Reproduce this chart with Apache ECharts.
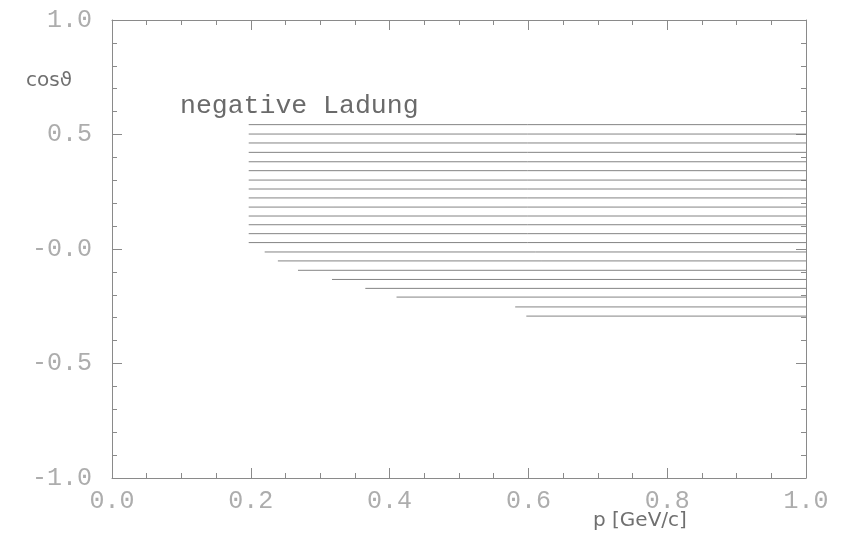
<!DOCTYPE html>
<html>
<head>
<meta charset="utf-8">
<script src="https://cdn.jsdelivr.net/npm/echarts@6/dist/echarts.min.js"></script>
<style>
  html, body { margin: 0; padding: 0; background: #fff; }
  #chart { width: 857px; height: 534px; }
</style>
</head>
<body>
<div id="chart"></div>
<script>
// Acceptance band for negative charge: one horizontal stroke per cos(theta) row,
// running from the lowest accepted momentum up to p = 1.0 GeV/c.
const cosTheta = [0.543, 0.502, 0.463, 0.422, 0.381, 0.342, 0.301, 0.262, 0.223, 0.183, 0.144,
                  0.106, 0.067, 0.028, -0.013, -0.052, -0.093, -0.133, -0.172, -0.210, -0.253, -0.293];
const pStart = [0.197, 0.197, 0.197, 0.197, 0.197, 0.197, 0.197, 0.197, 0.197, 0.197, 0.197,
                0.197, 0.197, 0.197, 0.220, 0.239, 0.268, 0.317, 0.365, 0.410, 0.581, 0.597];
const pEnd = [1.0, 1.0, 1.0, 1.0, 1.0, 1.0, 1.0, 1.0, 1.0, 1.0, 1.0,
              1.0, 1.0, 1.0, 1.0, 1.0, 1.0, 1.0, 1.0, 1.0, 1.0, 1.0];

const xTickLabels = ['0.0', '0.2', '0.4', '0.6', '0.8', '1.0'];
const yTickLabels = ['-1.0', '-0.5', '-0.0', '0.5', '1.0'];

const tickFont = { fontFamily: 'Liberation Mono', fontSize: 25, color: '#adadad' };
const frameColor = '#8a8a8a';

function frameAxis(extra) {
  return Object.assign({
    type: 'value',
    axisLine: { show: true, onZero: false, lineStyle: { color: frameColor, width: 1 } },
    axisTick: { show: true, inside: true, length: 10, lineStyle: { color: frameColor } },
    minorTick: { show: true, length: 5, lineStyle: { color: frameColor } },
    splitLine: { show: false },
    minorSplitLine: { show: false }
  }, extra);
}

const xLabelFmt = v => xTickLabels[Math.round(v / 0.2)];
const yLabelFmt = v => yTickLabels[Math.round((v + 1) / 0.5)];

const series = cosTheta.map((c, i) => ({
  type: 'line',
  xAxisIndex: 0,
  yAxisIndex: 0,
  data: [[pStart[i], c], [pEnd[i], c]],
  symbol: 'none',
  silent: true,
  lineStyle: { color: '#6e6e6e', width: 1, opacity: 0.85 }
}));

const chart = echarts.init(document.getElementById('chart'), null, { renderer: 'canvas' });
chart.setOption({
  animation: false,
  backgroundColor: '#fff',
  grid: { left: 112, right: 51, top: 20, bottom: 56 },
  xAxis: [
    frameAxis({
      position: 'bottom', min: 0, max: 1, interval: 0.2,
      minorTick: { show: true, splitNumber: 4, length: 5, lineStyle: { color: frameColor } },
      axisLabel: Object.assign({ margin: 11, formatter: xLabelFmt }, tickFont)
    }),
    frameAxis({
      position: 'top', min: 0, max: 1, interval: 0.2,
      minorTick: { show: true, splitNumber: 4, length: 5, lineStyle: { color: frameColor } },
      axisLabel: { show: false }
    })
  ],
  yAxis: [
    frameAxis({
      position: 'left', min: -1, max: 1, interval: 0.5,
      minorTick: { show: true, splitNumber: 5, length: 5, lineStyle: { color: frameColor } },
      axisLabel: Object.assign({ margin: 20, formatter: yLabelFmt }, tickFont)
    }),
    frameAxis({
      position: 'right', min: -1, max: 1, interval: 0.5,
      minorTick: { show: true, splitNumber: 5, length: 5, lineStyle: { color: frameColor } },
      axisLabel: { show: false }
    })
  ],
  graphic: [
    {
      type: 'text', left: 26, top: 71,
      style: { text: 'cos\u03d1', fontFamily: 'DejaVu Sans', fontSize: 20, fill: '#707070' }
    },
    {
      type: 'text', left: 180, top: 92,
      style: { text: 'negative Ladung', fontFamily: 'Liberation Mono', fontSize: 26.5, fill: '#6a6a6a' }
    },
    {
      type: 'text', left: 593, top: 511,
      style: { text: 'p [GeV/c]', fontFamily: 'DejaVu Sans', fontSize: 20, fill: '#707070' }
    }
  ],
  series: series
});
</script>
</body>
</html>
